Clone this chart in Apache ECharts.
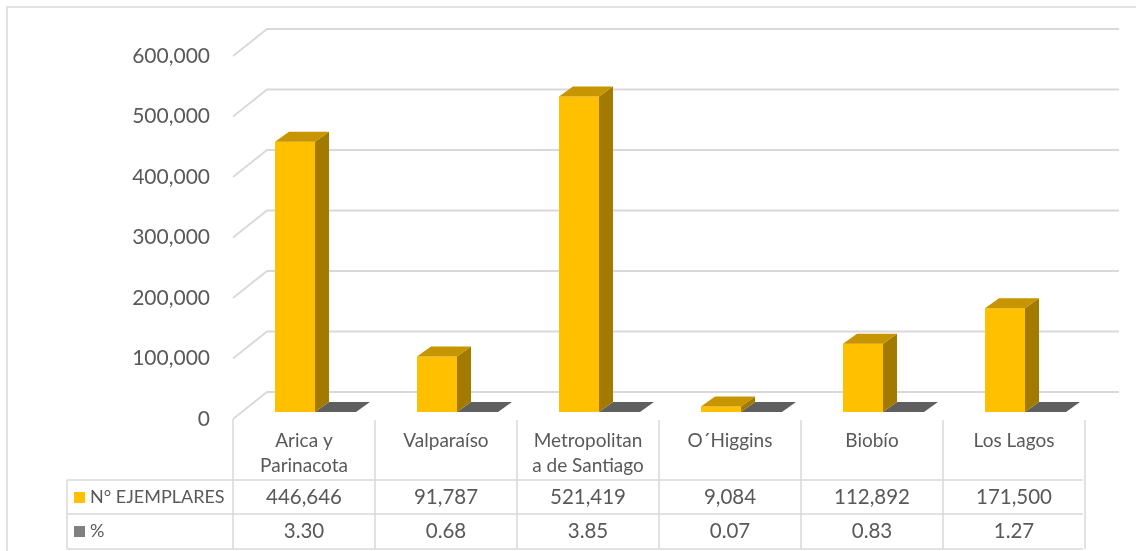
<!DOCTYPE html>
<html>
<head>
<meta charset="utf-8">
<script src="https://cdn.jsdelivr.net/npm/echarts@6/dist/echarts.min.js"></script>
<style>
html,body{margin:0;padding:0;background:#fff;}
#chart{width:1136px;height:551px;}
</style>
</head>
<body>
<div id="chart"></div>
<script>
const categories = ['Arica y Parinacota', 'Valparaíso', 'Metropolitana de Santiago', 'O´Higgins', 'Biobío', 'Los Lagos'];
const categoryLabels = ['Arica y\nParinacota', 'Valparaíso', 'Metropolitan\na de Santiago', 'O´Higgins', 'Biobío', 'Los Lagos'];
const ejemplares = [446646, 91787, 521419, 9084, 112892, 171500];
const porcentaje = [3.30, 0.68, 3.85, 0.07, 0.83, 1.27];
const yTicks = [0, 100000, 200000, 300000, 400000, 500000, 600000];
const seriesNames = ['N° EJEMPLARES', '%'];

const FONT = 'Lato';
const TXT = '#595959';
const GRID = '#D9D9D9';
const DEPTH_X = 34, DEPTH_Y = -27;   // floor depth
const BAR_DX = 14, BAR_DY = -10;      // bar depth
const BAR_LIFT = 7;                   // bars sit slightly back on the floor

const chart = echarts.init(document.getElementById('chart'));

function box(api, idx, val, xOff, width, cFront, cTop, cSide) {
  const base = api.coord([idx, 0]);
  const top = api.coord([idx, val]);
  const h = base[1] - top[1];
  const x0 = base[0] + xOff, x1 = x0 + width;
  const yb = base[1] - BAR_LIFT, yt = yb - h;
  const children = [];
  if (h > 0.3) {
    children.push({type: 'rect', shape: {x: x0, y: yt, width: width, height: h}, style: {fill: cFront}});
    children.push({type: 'polygon', shape: {points: [[x1, yt], [x1 + BAR_DX, yt + BAR_DY], [x1 + BAR_DX, yb + BAR_DY], [x1, yb]]}, style: {fill: cSide}});
  }
  children.push({type: 'polygon', shape: {points: [[x0, yt], [x1, yt], [x1 + BAR_DX, yt + BAR_DY], [x0 + BAR_DX, yt + BAR_DY]]}, style: {fill: cTop}});
  return {type: 'group', children: children};
}

const option = {
  animation: false,
  backgroundColor: '#fff',
  grid: {left: 233, right: 51, top: 56, bottom: 132},
  xAxis: {
    type: 'category',
    data: categories,
    axisLine: {show: false},
    axisTick: {show: false},
    axisLabel: {
      interval: 0,
      margin: 9,
      color: TXT,
      fontFamily: FONT,
      fontSize: 19,
      lineHeight: 25,
      verticalAlign: 'top',
      formatter: (v, i) => categoryLabels[i]
    }
  },
  yAxis: {
    type: 'value',
    min: 0, max: 600000, interval: 100000,
    axisLine: {show: false},
    axisTick: {show: false},
    splitLine: {show: false},
    axisLabel: {
      margin: 23,
      color: TXT,
      fontFamily: FONT,
      fontSize: 21,
      formatter: v => v.toLocaleString('en-US')
    }
  },
  graphic: [
    {type: 'rect', shape: {x: 7, y: 7, width: 1150, height: 560}, style: {fill: 'none', stroke: GRID, lineWidth: 1.5}, z: 0},
    {type: 'line', shape: {x1: 67, y1: 480, x2: 1083, y2: 480}, style: {stroke: GRID, lineWidth: 1.5}},
    {type: 'line', shape: {x1: 67, y1: 514, x2: 1083, y2: 514}, style: {stroke: GRID, lineWidth: 1.5}},
    {type: 'line', shape: {x1: 67, y1: 549, x2: 1083, y2: 549}, style: {stroke: GRID, lineWidth: 1.5}},
    {type: 'line', shape: {x1: 67, y1: 480, x2: 67, y2: 549}, style: {stroke: GRID, lineWidth: 1.5}},
    {type: 'rect', shape: {x: 74, y: 492, width: 11, height: 11}, style: {fill: '#FFC000'}},
    {type: 'rect', shape: {x: 74, y: 526, width: 11, height: 11}, style: {fill: '#808080'}},
    {type: 'text', x: 90, y: 497, style: {text: seriesNames[0], fill: TXT, font: '18px ' + FONT, verticalAlign: 'middle'}},
    {type: 'text', x: 90, y: 531.5, style: {text: seriesNames[1], fill: TXT, font: '18px ' + FONT, verticalAlign: 'middle'}}
  ],
  series: [
    {
      type: 'custom',
      name: 'grid',
      silent: true,
      data: yTicks.map(v => [0, v]),
      encode: {x: 0, y: 1},
      z: 1,
      renderItem: (params, api) => {
        const p = api.coord([0, api.value(1)]);
        const bw = api.size([1, 0])[0];
        const xl = p[0] - bw / 2;
        const xr = xl + bw * categories.length;
        return {type: 'polyline', shape: {points: [[xl, p[1]], [xl + DEPTH_X, p[1] + DEPTH_Y], [xr + DEPTH_X, p[1] + DEPTH_Y]]}, style: {stroke: GRID, lineWidth: 1.8, fill: 'none'}};
      }
    },
    {
      type: 'custom',
      name: 'table',
      silent: true,
      data: categories.map((c, i) => [i, 0]),
      encode: {x: 0, y: 1},
      z: 1,
      renderItem: (params, api) => {
        const idx = api.value(0);
        const p = api.coord([idx, 0]);
        const bw = api.size([1, 0])[0];
        const xl = p[0] - bw / 2;
        const children = [
          {type: 'line', shape: {x1: xl + bw, y1: p[1] + 1, x2: xl + bw, y2: 549}, style: {stroke: GRID, lineWidth: 1.5}},
          {type: 'text', style: {text: ejemplares[idx].toLocaleString('en-US'), x: p[0], y: 497, fill: TXT, font: '20.5px ' + FONT, align: 'center', verticalAlign: 'middle'}},
          {type: 'text', style: {text: porcentaje[idx].toFixed(2), x: p[0], y: 531.5, fill: TXT, font: '20.5px ' + FONT, align: 'center', verticalAlign: 'middle'}}
        ];
        if (idx === 0) {
          children.push({type: 'line', shape: {x1: xl, y1: p[1], x2: xl, y2: 549}, style: {stroke: GRID, lineWidth: 1.5}});
        }
        return {type: 'group', children: children};
      }
    },
    {
      type: 'custom',
      name: seriesNames[0],
      data: ejemplares.map((v, i) => [i, v]),
      encode: {x: 0, y: 1},
      z: 3,
      renderItem: (params, api) => box(api, api.value(0), api.value(1), -29, 40, '#FFC000', '#C69500', '#A37A00')
    },
    {
      type: 'custom',
      name: seriesNames[1],
      data: porcentaje.map((v, i) => [i, v]),
      encode: {x: 0, y: 1},
      z: 2,
      renderItem: (params, api) => box(api, api.value(0), api.value(1), 11, 41, '#7F7F7F', '#5F5F5F', '#4F4F4F')
    }
  ]
};
chart.setOption(option);
</script>
</body>
</html>
